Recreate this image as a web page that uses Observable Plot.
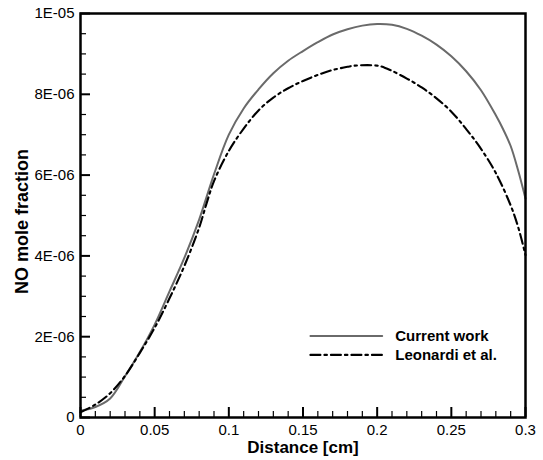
<!DOCTYPE html>
<html>
<head>
<meta charset="utf-8">
<script src="https://cdn.jsdelivr.net/npm/d3@7"></script>
<script src="https://cdn.jsdelivr.net/npm/@observablehq/plot@0.6"></script>
<style>
  html, body { margin: 0; padding: 0; background: #fff; }
  #chart { width: 543px; height: 460px; }
</style>
</head>
<body>
<div id="chart"></div>
<script>
// Distance [cm]
const currentX = [0, 0.01, 0.02, 0.03, 0.04, 0.05, 0.06, 0.07, 0.08, 0.09, 0.1, 0.11, 0.12, 0.13, 0.14, 0.15, 0.16, 0.17, 0.18, 0.19, 0.2, 0.21, 0.22, 0.23, 0.24, 0.25, 0.26, 0.27, 0.28, 0.285, 0.29, 0.295, 0.3];
// NO mole fraction (x 1e-6)
const currentY = [0.17, 0.26, 0.47, 1.02, 1.62, 2.3, 3.12, 3.95, 4.9, 6.02, 7.0, 7.65, 8.12, 8.52, 8.83, 9.07, 9.29, 9.48, 9.61, 9.7, 9.74, 9.72, 9.62, 9.45, 9.23, 8.94, 8.57, 8.1, 7.48, 7.13, 6.72, 6.12, 5.42];

const leonX = [0, 0.01, 0.02, 0.03, 0.04, 0.05, 0.06, 0.07, 0.08, 0.085, 0.09, 0.1, 0.11, 0.12, 0.13, 0.14, 0.15, 0.16, 0.17, 0.18, 0.185, 0.2, 0.205, 0.21, 0.22, 0.23, 0.24, 0.25, 0.26, 0.27, 0.28, 0.29, 0.295, 0.3];
const leonY = [0.13, 0.32, 0.6, 1.03, 1.6, 2.22, 2.95, 3.75, 4.7, 5.3, 5.85, 6.6, 7.15, 7.6, 7.92, 8.15, 8.33, 8.48, 8.6, 8.68, 8.71, 8.71, 8.66, 8.58, 8.39, 8.17, 7.9, 7.57, 7.14, 6.65, 6.05, 5.25, 4.72, 4.02];

const xMajor = [0, 0.05, 0.1, 0.15, 0.2, 0.25, 0.3];
const xMajorLabels = ["0", "0.05", "0.1", "0.15", "0.2", "0.25", "0.3"];
const xMinor = d3.range(0, 31).map(i => i / 100).filter(v => Math.round(v * 100) % 5 !== 0);
const yMajor = [0, 2e-6, 4e-6, 6e-6, 8e-6, 1e-5];
const yMajorLabels = ["0", "2E-06", "4E-06", "6E-06", "8E-06", "1E-05"];
const yMinor = d3.range(0, 21).map(i => i * 0.5e-6).filter((v, i) => i % 4 !== 0);

const seriesNames = ["Current work", "Leonardi et al."];
// legend placement (data units)
const legendX1 = 0.155, legendX2 = 0.2034, legendTextX = 0.2122;
const legendY = [2.02e-6, 1.55e-6];

const current = currentX.map((x, i) => ({x, y: currentY[i] * 1e-6}));
const leon = leonX.map((x, i) => ({x, y: leonY[i] * 1e-6}));

const fmtX = d => xMajorLabels[xMajor.findIndex(v => Math.abs(v - d) < 1e-9)];
const fmtY = d => yMajorLabels[yMajor.findIndex(v => Math.abs(v - d) < 1e-12)];

const W = 543, H = 460, ML = 80, MR = 18, MT = 13, MB = 43;
const frameW = W - ML - MR, frameH = H - MT - MB;
const xDomain = [0, 0.3], yDomain = [0, 1e-5];
// one pixel expressed in data units along each axis (for tick lengths)
const pxX = (xDomain[1] - xDomain[0]) / frameW;
const pxY = (yDomain[1] - yDomain[0]) / frameH;

const font = "'Liberation Sans', Arial, Helvetica, sans-serif";
const greyCol = "#6a6a6a";
const dash = "10,4,2.5,4";

const chart = Plot.plot({
  width: W, height: H,
  marginLeft: ML, marginRight: MR, marginTop: MT, marginBottom: MB,
  style: {fontFamily: font, fontSize: "15px", color: "#000", background: "#fff"},
  x: {domain: xDomain, axis: null},
  y: {domain: yDomain, axis: null},
  marks: [
    Plot.line(current, {x: "x", y: "y", stroke: greyCol, strokeWidth: 2, curve: "catmull-rom"}),
    Plot.line(leon, {x: "x", y: "y", stroke: "#000", strokeWidth: 2.1, strokeDasharray: dash, curve: "catmull-rom"}),
    // legend
    Plot.line([{x: legendX1, y: legendY[0]}, {x: legendX2, y: legendY[0]}], {x: "x", y: "y", stroke: greyCol, strokeWidth: 2}),
    Plot.line([{x: legendX1, y: legendY[1]}, {x: legendX2, y: legendY[1]}], {x: "x", y: "y", stroke: "#000", strokeWidth: 2.1, strokeDasharray: dash}),
    Plot.text(seriesNames, {x: () => legendTextX, y: (d, i) => legendY[i], text: d => d, textAnchor: "start", fontWeight: "bold", fontSize: 15, fill: "#000"}),
    // inward ticks
    Plot.ruleX(xMajor, {x: d => d, y1: yDomain[0], y2: yDomain[0] + 10 * pxY, stroke: "#000", strokeWidth: 2}),
    Plot.ruleX(xMinor, {x: d => d, y1: yDomain[0], y2: yDomain[0] + 6 * pxY, stroke: "#000", strokeWidth: 1.2}),
    Plot.ruleY(yMajor, {y: d => d, x1: xDomain[0], x2: xDomain[0] + 10 * pxX, stroke: "#000", strokeWidth: 2}),
    Plot.ruleY(yMinor, {y: d => d, x1: xDomain[0], x2: xDomain[0] + 6 * pxX, stroke: "#000", strokeWidth: 1.2}),
    // tick labels
    Plot.axisX({ticks: xMajor, tickSize: 0, tickPadding: 7, tickFormat: fmtX, fontSize: 15, label: null}),
    Plot.axisY({ticks: yMajor, tickSize: 0, tickPadding: 6, tickFormat: fmtY, fontSize: 15, label: null}),
    Plot.frame({stroke: "#000", strokeWidth: 2.5, fill: "none"}),
    // axis titles
    Plot.text(["Distance [cm]"], {frameAnchor: "bottom", dy: 30, lineAnchor: "middle", textAnchor: "middle", fontWeight: "bold", fontSize: 17, fill: "#000"}),
    Plot.text(["NO mole fraction"], {frameAnchor: "left", dx: -58, dy: 6, rotate: -90, lineAnchor: "middle", textAnchor: "middle", fontWeight: "bold", fontSize: 18, fill: "#000"})
  ]
});
document.getElementById("chart").appendChild(chart);
</script>
</body>
</html>
